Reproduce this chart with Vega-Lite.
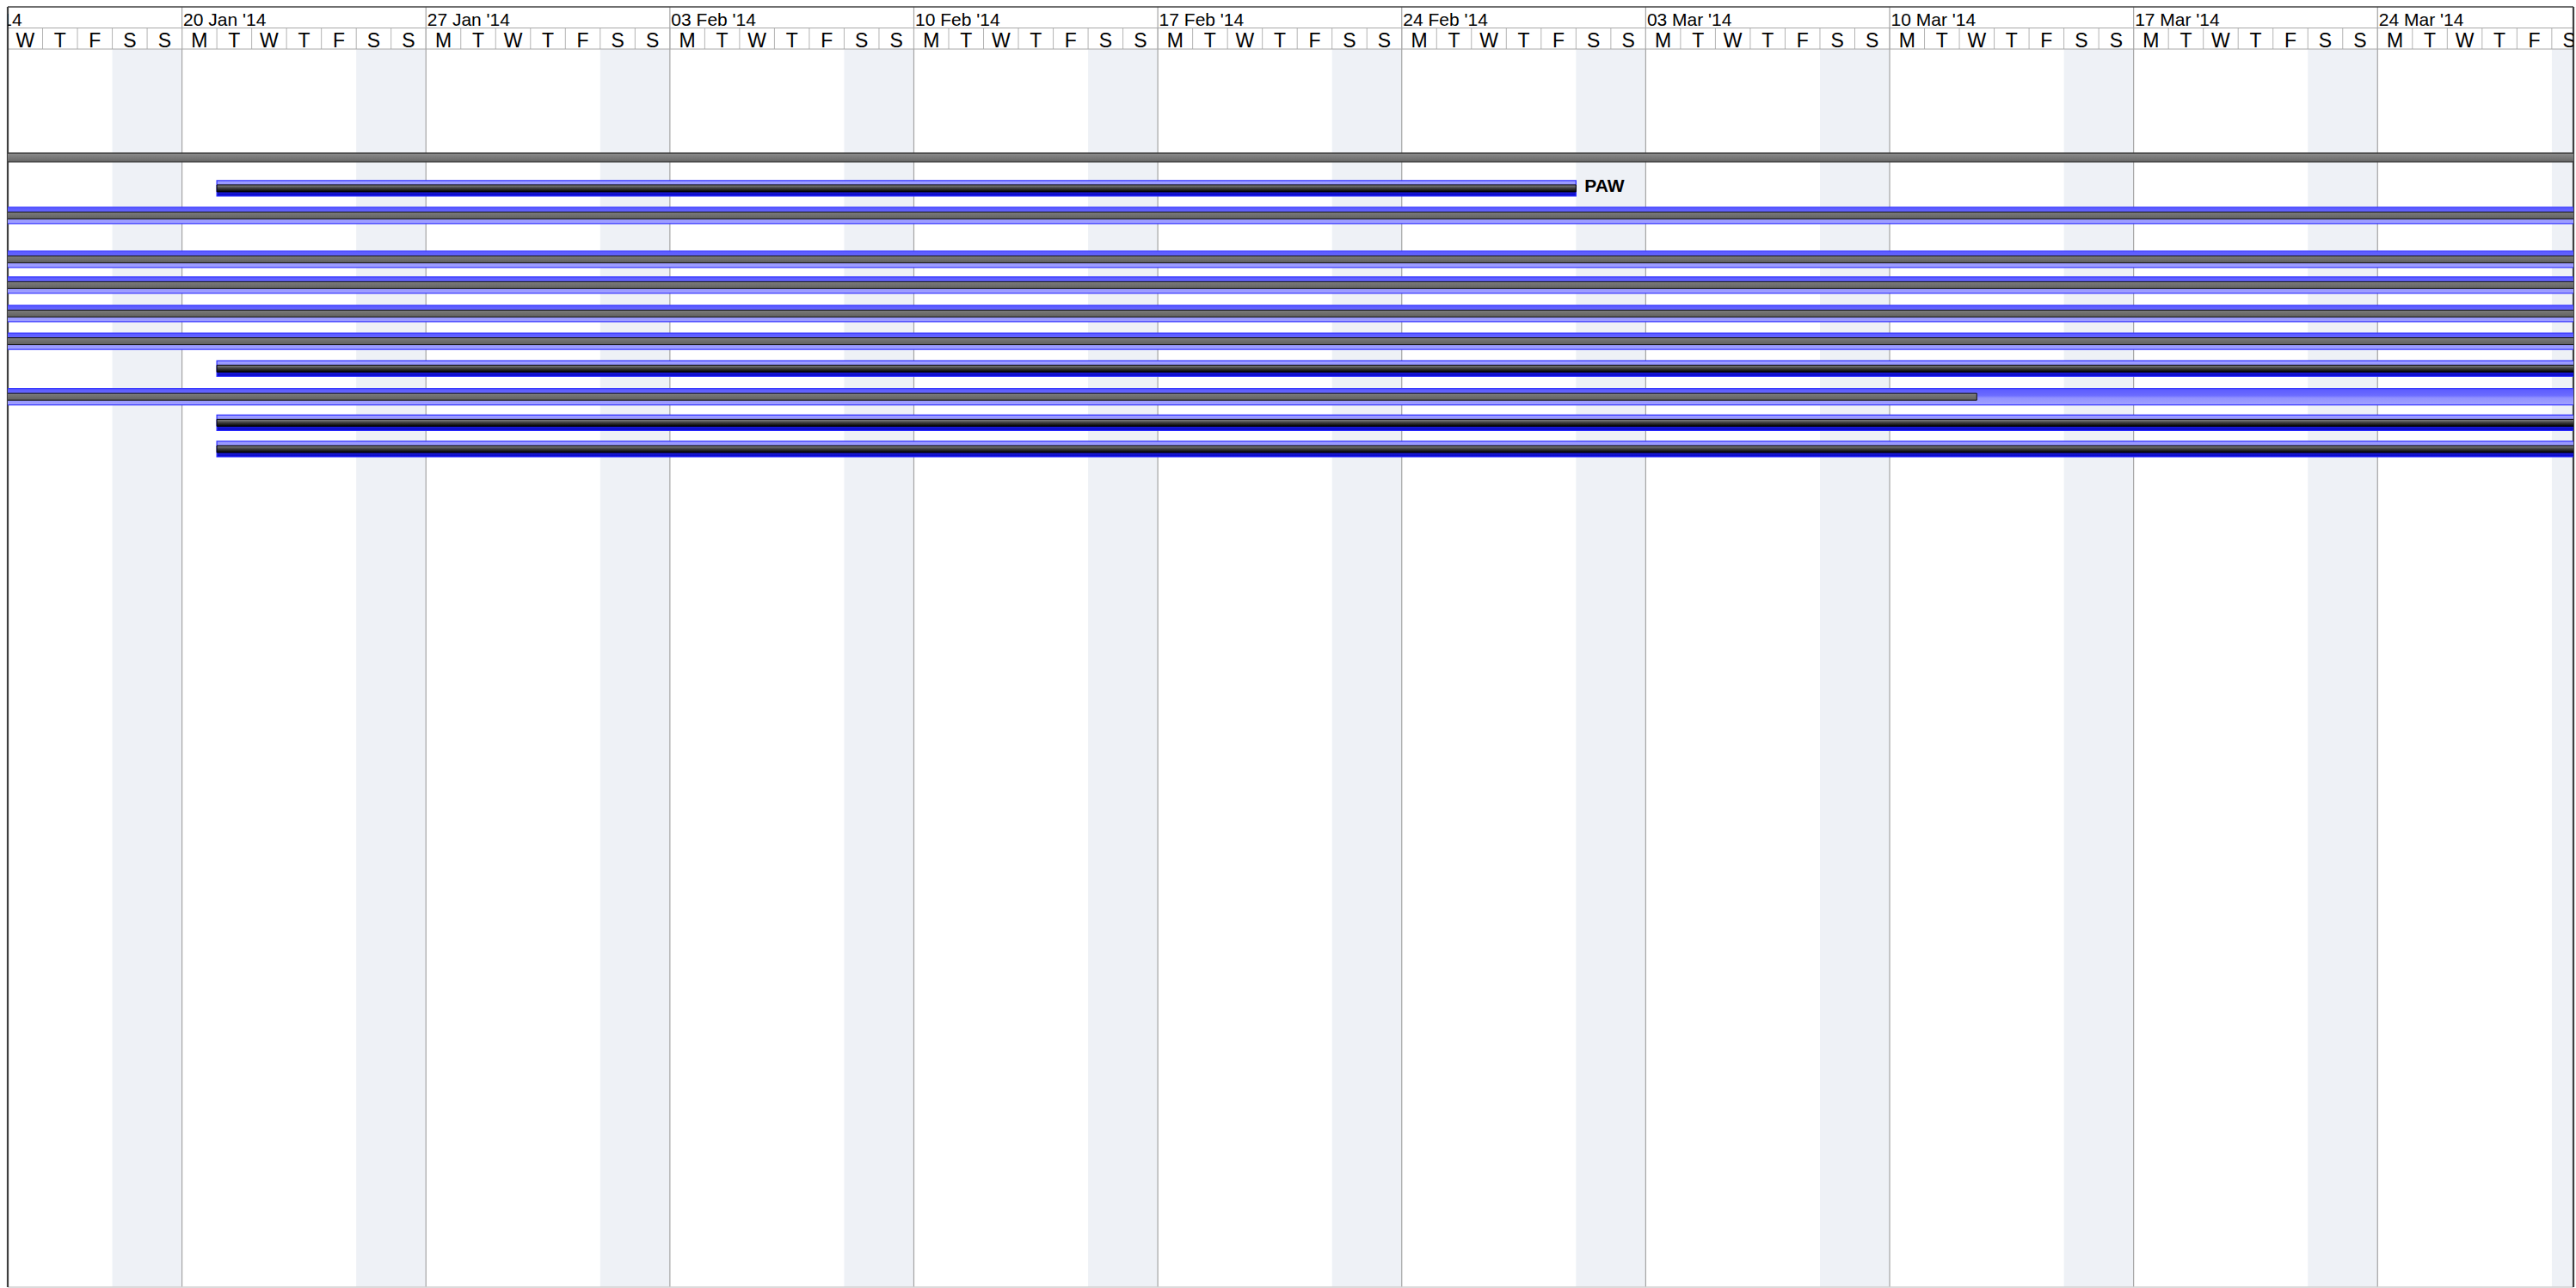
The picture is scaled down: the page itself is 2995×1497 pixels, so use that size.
{
  "$schema": "https://vega.github.io/schema/vega-lite/v6.json",
  "width": 2983,
  "height": 1488,
  "autosize": {"type": "none"},
  "padding": {"left": 9, "top": 8, "right": 3, "bottom": 1},
  "background": "white",
  "config": {"view": {"stroke": null}, "font": "Liberation Sans"},
  "datasets": {
    "weekends": [
      {"start": "2014-01-18T00:00", "end": "2014-01-20T00:00"},
      {"start": "2014-01-25T00:00", "end": "2014-01-27T00:00"},
      {"start": "2014-02-01T00:00", "end": "2014-02-03T00:00"},
      {"start": "2014-02-08T00:00", "end": "2014-02-10T00:00"},
      {"start": "2014-02-15T00:00", "end": "2014-02-17T00:00"},
      {"start": "2014-02-22T00:00", "end": "2014-02-24T00:00"},
      {"start": "2014-03-01T00:00", "end": "2014-03-03T00:00"},
      {"start": "2014-03-08T00:00", "end": "2014-03-10T00:00"},
      {"start": "2014-03-15T00:00", "end": "2014-03-17T00:00"},
      {"start": "2014-03-22T00:00", "end": "2014-03-24T00:00"},
      {"start": "2014-03-29T00:00", "end": "2014-03-31T00:00"}
    ],
    "weeks": [
      {"start": "2014-01-13T00:00"},
      {"start": "2014-01-20T00:00"},
      {"start": "2014-01-27T00:00"},
      {"start": "2014-02-03T00:00"},
      {"start": "2014-02-10T00:00"},
      {"start": "2014-02-17T00:00"},
      {"start": "2014-02-24T00:00"},
      {"start": "2014-03-03T00:00"},
      {"start": "2014-03-10T00:00"},
      {"start": "2014-03-17T00:00"},
      {"start": "2014-03-24T00:00"}
    ],
    "days": [
      {"start": "2014-01-15T00:00", "day": "W"}, {"start": "2014-01-16T00:00", "day": "T"}, {"start": "2014-01-17T00:00", "day": "F"},
      {"start": "2014-01-18T00:00", "day": "S"}, {"start": "2014-01-19T00:00", "day": "S"}, {"start": "2014-01-20T00:00", "day": "M"},
      {"start": "2014-01-21T00:00", "day": "T"}, {"start": "2014-01-22T00:00", "day": "W"}, {"start": "2014-01-23T00:00", "day": "T"},
      {"start": "2014-01-24T00:00", "day": "F"}, {"start": "2014-01-25T00:00", "day": "S"}, {"start": "2014-01-26T00:00", "day": "S"},
      {"start": "2014-01-27T00:00", "day": "M"}, {"start": "2014-01-28T00:00", "day": "T"}, {"start": "2014-01-29T00:00", "day": "W"},
      {"start": "2014-01-30T00:00", "day": "T"}, {"start": "2014-01-31T00:00", "day": "F"}, {"start": "2014-02-01T00:00", "day": "S"},
      {"start": "2014-02-02T00:00", "day": "S"}, {"start": "2014-02-03T00:00", "day": "M"}, {"start": "2014-02-04T00:00", "day": "T"},
      {"start": "2014-02-05T00:00", "day": "W"}, {"start": "2014-02-06T00:00", "day": "T"}, {"start": "2014-02-07T00:00", "day": "F"},
      {"start": "2014-02-08T00:00", "day": "S"}, {"start": "2014-02-09T00:00", "day": "S"}, {"start": "2014-02-10T00:00", "day": "M"},
      {"start": "2014-02-11T00:00", "day": "T"}, {"start": "2014-02-12T00:00", "day": "W"}, {"start": "2014-02-13T00:00", "day": "T"},
      {"start": "2014-02-14T00:00", "day": "F"}, {"start": "2014-02-15T00:00", "day": "S"}, {"start": "2014-02-16T00:00", "day": "S"},
      {"start": "2014-02-17T00:00", "day": "M"}, {"start": "2014-02-18T00:00", "day": "T"}, {"start": "2014-02-19T00:00", "day": "W"},
      {"start": "2014-02-20T00:00", "day": "T"}, {"start": "2014-02-21T00:00", "day": "F"}, {"start": "2014-02-22T00:00", "day": "S"},
      {"start": "2014-02-23T00:00", "day": "S"}, {"start": "2014-02-24T00:00", "day": "M"}, {"start": "2014-02-25T00:00", "day": "T"},
      {"start": "2014-02-26T00:00", "day": "W"}, {"start": "2014-02-27T00:00", "day": "T"}, {"start": "2014-02-28T00:00", "day": "F"},
      {"start": "2014-03-01T00:00", "day": "S"}, {"start": "2014-03-02T00:00", "day": "S"}, {"start": "2014-03-03T00:00", "day": "M"},
      {"start": "2014-03-04T00:00", "day": "T"}, {"start": "2014-03-05T00:00", "day": "W"}, {"start": "2014-03-06T00:00", "day": "T"},
      {"start": "2014-03-07T00:00", "day": "F"}, {"start": "2014-03-08T00:00", "day": "S"}, {"start": "2014-03-09T00:00", "day": "S"},
      {"start": "2014-03-10T00:00", "day": "M"}, {"start": "2014-03-11T00:00", "day": "T"}, {"start": "2014-03-12T00:00", "day": "W"},
      {"start": "2014-03-13T00:00", "day": "T"}, {"start": "2014-03-14T00:00", "day": "F"}, {"start": "2014-03-15T00:00", "day": "S"},
      {"start": "2014-03-16T00:00", "day": "S"}, {"start": "2014-03-17T00:00", "day": "M"}, {"start": "2014-03-18T00:00", "day": "T"},
      {"start": "2014-03-19T00:00", "day": "W"}, {"start": "2014-03-20T00:00", "day": "T"}, {"start": "2014-03-21T00:00", "day": "F"},
      {"start": "2014-03-22T00:00", "day": "S"}, {"start": "2014-03-23T00:00", "day": "S"}, {"start": "2014-03-24T00:00", "day": "M"},
      {"start": "2014-03-25T00:00", "day": "T"}, {"start": "2014-03-26T00:00", "day": "W"}, {"start": "2014-03-27T00:00", "day": "T"},
      {"start": "2014-03-28T00:00", "day": "F"}, {"start": "2014-03-29T00:00", "day": "S"}
    ],
    "tasks": [
      {"row": 4.0, "type": "summary", "start": "2014-01-01T00:00", "end": "2014-05-01T00:00", "pend": "2014-05-01T00:00", "label": ""},
      {"row": 5.14, "type": "task", "start": "2014-01-21T00:00", "end": "2014-03-01T00:00", "pend": "2014-03-01T00:00", "label": "PAW"},
      {"row": 6.14, "type": "sub", "start": "2014-01-01T00:00", "end": "2014-05-01T00:00", "pend": "2014-05-01T00:00", "label": ""},
      {"row": 7.76, "type": "sub", "start": "2014-01-01T00:00", "end": "2014-05-01T00:00", "pend": "2014-05-01T00:00", "label": ""},
      {"row": 8.71, "type": "sub", "start": "2014-01-01T00:00", "end": "2014-05-01T00:00", "pend": "2014-05-01T00:00", "label": ""},
      {"row": 9.76, "type": "sub", "start": "2014-01-01T00:00", "end": "2014-05-01T00:00", "pend": "2014-05-01T00:00", "label": ""},
      {"row": 10.78, "type": "sub", "start": "2014-01-01T00:00", "end": "2014-05-01T00:00", "pend": "2014-05-01T00:00", "label": ""},
      {"row": 11.79, "type": "task", "start": "2014-01-21T00:00", "end": "2014-05-01T00:00", "pend": "2014-05-01T00:00", "label": ""},
      {"row": 12.83, "type": "sub", "start": "2014-01-01T00:00", "end": "2014-05-01T00:00", "pend": "2014-03-12T12:00", "label": ""},
      {"row": 13.79, "type": "task", "start": "2014-01-21T00:00", "end": "2014-05-01T00:00", "pend": "2014-05-01T00:00", "label": ""},
      {"row": 14.76, "type": "task", "start": "2014-01-21T00:00", "end": "2014-05-01T00:00", "pend": "2014-05-01T00:00", "label": ""}
    ],
    "frame": [
      {"edge": "left", "at": "2014-01-15T00:00"},
      {"edge": "right", "at": "2014-03-29T14:53"}
    ]
  },
  "layer": [
    {
      "data": {"name": "weekends"},
      "mark": {"type": "rect", "color": "#eef1f6", "clip": true},
      "encoding": {
        "x": {
          "field": "start", "type": "temporal", "axis": null,
          "scale": {"domain": [{"year": 2014, "month": 1, "date": 15}, {"year": 2014, "month": 3, "date": 29, "hours": 14, "minutes": 53}], "nice": false, "padding": 0}
        },
        "x2": {"field": "end"},
        "y": {"datum": 0, "type": "quantitative", "axis": null, "scale": {"domain": [-1.556, 45.683], "reverse": true, "nice": false, "zero": false, "padding": 0}},
        "y2": {"datum": 45.683}
      }
    },
    {
      "data": {"name": "weeks"},
      "mark": {"type": "rule", "color": "#a4a4a4", "strokeWidth": 1.2, "clip": true},
      "encoding": {"x": {"field": "start", "type": "temporal", "axis": null}}
    },
    {
      "data": {"name": "days"},
      "mark": {"type": "rule", "color": "#b4b4b4", "strokeWidth": 1, "clip": true},
      "encoding": {
        "x": {"field": "start", "type": "temporal", "axis": null},
        "y": {"datum": -0.778, "type": "quantitative", "axis": null},
        "y2": {"datum": 0}
      }
    },
    {
      "data": {"values": [{"line": "weeks"}]},
      "mark": {"type": "rule", "color": "#a8a8a8", "strokeWidth": 1},
      "encoding": {"y": {"datum": -0.778, "type": "quantitative", "axis": null}}
    },
    {
      "data": {"values": [{"line": "days"}]},
      "mark": {"type": "rule", "color": "#a8a8a8", "strokeWidth": 1},
      "encoding": {"y": {"datum": 0, "type": "quantitative", "axis": null}}
    },
    {
      "data": {"values": [{"line": "bottom"}]},
      "mark": {"type": "rule", "color": "#cfcfcf", "strokeWidth": 1.5},
      "encoding": {"y": {"datum": 45.683, "type": "quantitative", "axis": null}}
    },
    {
      "data": {"values": [{"line": "top"}]},
      "mark": {"type": "rule", "color": "#404040", "strokeWidth": 1.5},
      "encoding": {"y": {"datum": -1.556, "type": "quantitative", "axis": null}}
    },
    {
      "data": {"name": "frame"},
      "mark": {"type": "rule", "color": "#404040", "strokeWidth": 2.2},
      "encoding": {"x": {"field": "at", "type": "temporal", "axis": null}}
    },
    {
      "data": {"name": "weeks"},
      "mark": {"type": "text", "align": "left", "baseline": "alphabetic", "dx": 1.5, "dy": -3, "font": "Liberation Sans", "fontSize": 21, "color": "#000000", "clip": true},
      "encoding": {
        "x": {"field": "start", "type": "temporal", "axis": null},
        "y": {"datum": -0.778, "type": "quantitative", "axis": null},
        "text": {"field": "start", "type": "temporal", "format": "%d %b '%y"}
      }
    },
    {
      "data": {"name": "days"},
      "mark": {"type": "text", "align": "center", "baseline": "alphabetic", "dx": 20.26, "dy": -2.5, "font": "Liberation Sans", "fontSize": 23, "color": "#000000", "clip": true},
      "encoding": {
        "x": {"field": "start", "type": "temporal", "axis": null},
        "y": {"datum": 0, "type": "quantitative", "axis": null},
        "text": {"field": "day"}
      }
    },
    {
      "data": {"name": "tasks"},
      "transform": [{"filter": "datum.type === 'summary'"}],
      "mark": {"type": "bar", "height": 10, "clip": true, "stroke": "#3a3a3a", "strokeWidth": 1.5,
        "fill": {"gradient": "linear", "x1": 0, "y1": 0, "x2": 0, "y2": 1, "stops": [{"offset": 0, "color": "#8c8c8c"}, {"offset": 1, "color": "#686868"}]}},
      "encoding": {
        "x": {"field": "start", "type": "temporal", "axis": null},
        "x2": {"field": "end"},
        "y": {"field": "row", "type": "quantitative", "axis": null}
      }
    },
    {
      "data": {"name": "tasks"},
      "transform": [{"filter": "datum.type === 'task'"}],
      "mark": {"type": "bar", "height": 18, "clip": true, "stroke": "#2b2bff", "strokeWidth": 1.2,
        "fill": {"gradient": "linear", "x1": 0, "y1": 0, "x2": 0, "y2": 1, "stops": [{"offset": 0, "color": "#a3a3ff"}, {"offset": 0.4, "color": "#8a8aff"}, {"offset": 0.6, "color": "#2a2ae6"}, {"offset": 1, "color": "#0505c0"}]}},
      "encoding": {
        "x": {"field": "start", "type": "temporal", "axis": null},
        "x2": {"field": "end"},
        "y": {"field": "row", "type": "quantitative", "axis": null}
      }
    },
    {
      "data": {"name": "tasks"},
      "transform": [{"filter": "datum.type === 'sub'"}],
      "mark": {"type": "bar", "height": 19, "clip": true, "stroke": "#3a3aff", "strokeWidth": 1.2,
        "fill": {"gradient": "linear", "x1": 0, "y1": 0, "x2": 0, "y2": 1, "stops": [{"offset": 0, "color": "#5a5aff"}, {"offset": 0.42, "color": "#6c6cff"}, {"offset": 0.58, "color": "#9292ff"}, {"offset": 1, "color": "#a2a2ff"}]}},
      "encoding": {
        "x": {"field": "start", "type": "temporal", "axis": null},
        "x2": {"field": "end"},
        "y": {"field": "row", "type": "quantitative", "axis": null}
      }
    },
    {
      "data": {"name": "tasks"},
      "transform": [{"filter": "datum.type === 'task'"}],
      "mark": {"type": "bar", "height": 8, "clip": true, "stroke": "#000000", "strokeWidth": 1,
        "fill": {"gradient": "linear", "x1": 0, "y1": 0, "x2": 0, "y2": 1, "stops": [{"offset": 0, "color": "#8a8a8a"}, {"offset": 0.5, "color": "#3c3c3c"}, {"offset": 1, "color": "#000000"}]}},
      "encoding": {
        "x": {"field": "start", "type": "temporal", "axis": null},
        "x2": {"field": "pend"},
        "y": {"field": "row", "type": "quantitative", "axis": null}
      }
    },
    {
      "data": {"name": "tasks"},
      "transform": [{"filter": "datum.type === 'sub'"}],
      "mark": {"type": "bar", "height": 8, "clip": true, "stroke": "#111111", "strokeWidth": 1,
        "fill": {"gradient": "linear", "x1": 0, "y1": 0, "x2": 0, "y2": 1, "stops": [{"offset": 0, "color": "#7c7c7c"}, {"offset": 1, "color": "#606060"}]}},
      "encoding": {
        "x": {"field": "start", "type": "temporal", "axis": null},
        "x2": {"field": "pend"},
        "y": {"field": "row", "type": "quantitative", "axis": null}
      }
    },
    {
      "data": {"name": "tasks"},
      "transform": [{"filter": "datum.label !== ''"}],
      "mark": {"type": "text", "align": "left", "baseline": "alphabetic", "dx": 10, "dy": 4.5, "font": "Liberation Sans", "fontSize": 21, "fontWeight": "bold", "color": "#000000", "clip": true},
      "encoding": {
        "x": {"field": "end", "type": "temporal", "axis": null},
        "y": {"field": "row", "type": "quantitative", "axis": null},
        "text": {"field": "label"}
      }
    }
  ]
}
